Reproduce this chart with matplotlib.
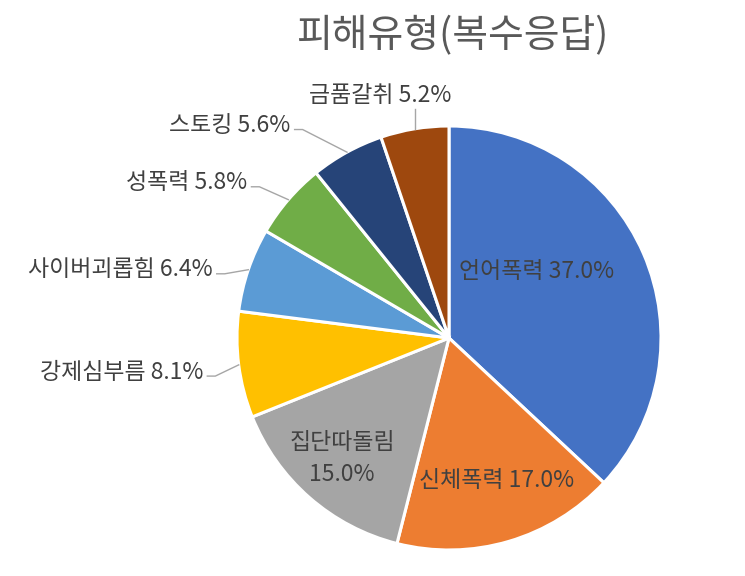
import numpy as np
import matplotlib
matplotlib.use("Agg")
import matplotlib.pyplot as plt

plt.rcParams['font.family'] = ['Noto Sans CJK KR', 'DejaVu Sans']

# data
title = '피해유형(복수응답)'
categories = ['언어폭력', '신체폭력', '집단따돌림', '강제심부름', '사이버괴롭힘', '성폭력', '스토킹', '금품갈취']
percent = [37.0, 17.0, 15.0, 8.1, 6.4, 5.8, 5.6, 5.2]
colors = ['#4472C4', '#ED7D31', '#A5A5A5', '#FFC000', '#5B9BD5', '#70AD47', '#264478', '#9E480E']

# layout (pixels), label spots as (radius factor, angle deg)
W, H = 745, 576
cx, cy, R = 449, H - 338, 212
label_polar = [(0.52, 37), (0.71, -71.7), (0.76, -131.5),
               (1.17, 187.9), (1.16, 163.9), (1.20, 142.4), (1.25, 126.7), (1.19, 105.9)]
fs = 16.5

fig = plt.figure(figsize=(W / 100, H / 100), dpi=100)
ax = fig.add_axes([0, 0, 1, 1])

wedges, _ = ax.pie(percent, colors=colors, startangle=90, counterclock=False,
                   center=(cx, cy), radius=R, frame=True,
                   wedgeprops=dict(edgecolor='white', linewidth=2.2))
ax.set_xlim(0, W)
ax.set_ylim(0, H)
ax.set_aspect('equal')
ax.axis('off')

for i, (w, cat, p) in enumerate(zip(wedges, categories, percent)):
    f, ang = label_polar[i]
    tx = cx + f * R * np.cos(np.radians(ang))
    ty = cy + f * R * np.sin(np.radians(ang))
    sep = '\n' if len(cat) == 5 and f < 1 else ' '
    txt = f'{cat}{sep}{p:.1f}%'
    if f < 1:
        ax.text(tx, ty, txt, ha='center', va='center', fontsize=fs,
                color='#404040', linespacing=1.5)
        continue
    mid = np.radians((w.theta1 + w.theta2) / 2)
    ex, ey = cx + R * np.cos(mid), cy + R * np.sin(mid)
    if 100 < ang < 110:
        ax.text(tx, ty, txt, ha='center', va='center', fontsize=fs, color='#404040')
        ax.plot([ex, ex], [ty - 14, ey], color='#A6A6A6', lw=1)
    else:
        ax.text(tx, ty, txt, ha='right', va='center', fontsize=fs, color='#404040')
        ax.plot([tx + 4, tx + 12, ex], [ty - 4, ty - 4, ey], color='#A6A6A6', lw=1)

fig.text(452 / W, 1 - 36 / H, title, ha='center', va='center', fontsize=28, color='#595959')

fig.savefig('out.png', dpi=100, facecolor='white')
